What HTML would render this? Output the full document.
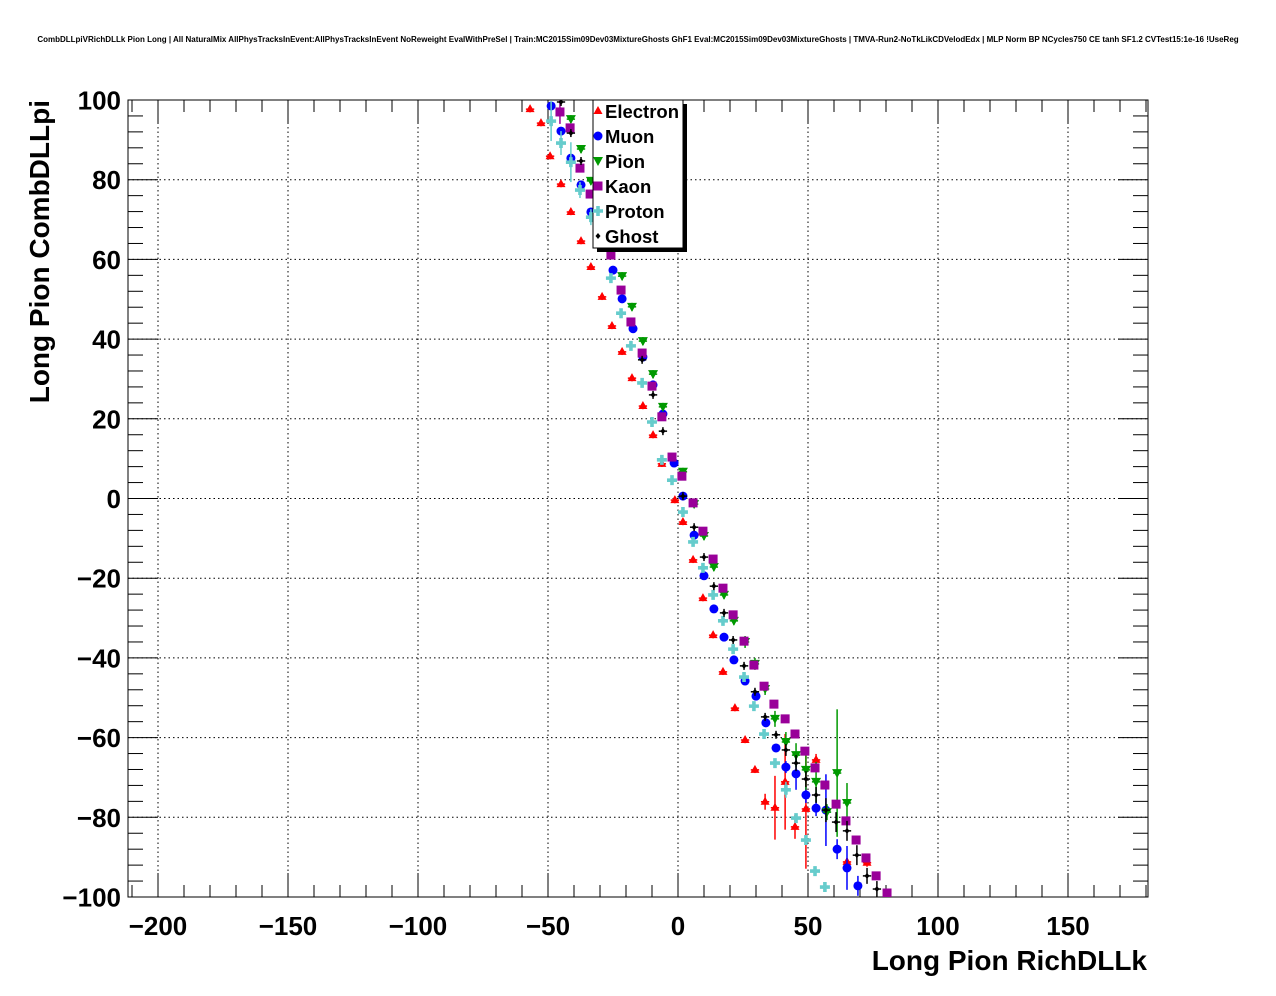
<!DOCTYPE html>
<html><head><meta charset="utf-8"><style>
body{margin:0;background:#fff;}
svg{display:block;font-family:"Liberation Sans",sans-serif;}
</style></head><body>
<svg id="chart" width="1276" height="996" viewBox="0 0 1276 996">
<text x="638" y="42" font-size="8" font-weight="bold" text-anchor="middle">CombDLLpiVRichDLLk Pion Long | All NaturalMix AllPhysTracksInEvent:AllPhysTracksInEvent NoReweight EvalWithPreSel | Train:MC2015Sim09Dev03MixtureGhosts GhF1 Eval:MC2015Sim09Dev03MixtureGhosts | TMVA-Run2-NoTkLikCDVelodEdx | MLP Norm BP NCycles750 CE tanh SF1.2 CVTest15:1e-16 !UseReg</text>
<g id="grid"></g>
<g id="axes"></g>
<g id="marks"></g>
<text x="1147" y="970" font-size="28" font-weight="bold" text-anchor="end">Long Pion RichDLLk</text>
<text transform="translate(49,100) rotate(-90)" font-size="28" font-weight="bold" text-anchor="end">Long Pion CombDLLpi</text>
<g id="legend"></g>
</svg>
<script>
const xTicks=[-200,-150,-100,-50,0,50,100,150];
const yTicks=[-100,-80,-60,-40,-20,0,20,40,60,80,100];
const seriesNames=["Electron","Muon","Pion","Kaon","Proton","Ghost"];
const electronX=[-56.9,-52.7,-49.2,-45,-41.2,-37.3,-33.5,-29.2,-25.4,-21.5,-17.7,-13.5,-9.6,-6.2,-1.2,1.9,5.8,9.6,13.5,17.3,21.9,25.8,29.6,33.5,37.3,41.2,45,49.2,53.1,65,72.7];
const electronY=[97.7,94.2,85.9,78.9,71.9,64.6,58.1,50.6,43.3,36.8,30.2,23.2,15.9,8.7,-0.4,-5.9,-15.4,-25,-34.3,-43.5,-52.6,-60.6,-68.1,-76.1,-77.6,-71.1,-82.4,-77.9,-65.6,-91.2,-91.4];
const electronErr=[0.8,0.8,0.8,0.8,0.8,0.8,0.8,0.8,0.8,0.8,0.8,0.8,0.8,0.8,0.8,0.8,0.8,0.8,0.8,0.8,0.8,0.8,0.8,2,8,12,3,15,1.5,1,1];
const muonX=[-48.8,-45,-41.2,-37.3,-33.5,-25,-21.5,-17.3,-13.5,-9.6,-5.8,-1.5,1.9,6.2,10,13.8,17.7,21.5,25.8,30,33.8,37.7,41.5,45.4,49.2,53.1,56.9,61.2,65,69.2];
const muonY=[98.5,92.2,85.4,78.7,71.9,57.3,50.1,42.6,35.5,28.5,21.2,8.9,0.6,-9.2,-19.4,-27.7,-34.8,-40.5,-45.8,-49.6,-56.3,-62.6,-67.4,-69.1,-74.4,-77.7,-78.2,-88,-92.7,-97.2];
const muonErr=[1,1,1,1,1,1,1,1,1,1,1,1,1,1,1,1,1,1,1,1,1,1,1.5,4,2,2,9,2.5,5.5,2.5];
const pionX=[-41.2,-37.3,-33.5,-21.5,-17.7,-13.5,-9.6,-5.8,1.9,6.2,10,13.8,17.7,21.5,25.8,29.6,33.5,37.3,41.5,45.4,49.2,53.1,57.3,61.2,65];
const pionY=[95.2,87.7,79.7,55.8,48.1,39.5,31.2,23,6.7,-1.4,-9.4,-17.2,-24.2,-30.7,-36,-41.5,-47.8,-55.3,-61.1,-64.4,-68.1,-71.1,-78.7,-68.9,-76.4];
const pionErr=[1,1,1,1,1,1,1,1,1,1,1,1,1,1,1.5,1.5,1.5,2,2.5,3,5,5,2,16,5];
const kaonX=[-45.4,-41.5,-37.7,-33.8,-25.8,-21.9,-18.1,-13.8,-10,-6.2,-2.3,1.5,5.8,9.6,13.5,17.3,21.2,25.4,29.2,33.1,36.9,41.2,45,48.8,52.7,56.5,60.8,64.6,68.5,72.3,76.2,80.4];
const kaonY=[97,93,82.9,76.4,61.1,52.3,44.3,36.5,28.2,20.5,10.4,5.6,-1.1,-8.2,-15.2,-22.5,-29.2,-35.8,-41.8,-47.1,-51.6,-55.3,-59.1,-63.4,-67.6,-71.9,-76.7,-80.9,-85.7,-90.2,-94.7,-99];
const kaonErr=[3,1,1,1,1,1,1,1,1,1,1,1,1,1,1,1,1,1,1,1,1,1,1,1,1,1,1,1,1,1,1,1];
const protonX=[-48.8,-45,-41.2,-37.7,-33.5,-25.8,-21.9,-18.1,-13.8,-10,-6.2,-2.3,1.9,5.8,9.6,13.5,17.3,21.2,25.4,29.2,33.1,37.3,41.5,45.4,49.2,52.7,56.5];
const protonY=[94.7,89.2,84.4,77.4,70.6,55.3,46.5,38.3,29,19.2,9.7,4.6,-3.4,-10.9,-17.4,-24.2,-30.7,-37.8,-44.8,-52.1,-59.1,-66.4,-73.1,-80.2,-85.7,-93.5,-97.5];
const protonErr=[5,3,5,2,2,1,1,1,1,1,1,1,1,1,1,1,1,1,1,1,1,1,2,1,1,1,1];
const ghostX=[-45,-41.2,-37.3,-13.8,-9.6,-5.8,1.9,6.2,10,13.8,17.7,21.2,25.4,29.6,33.5,37.7,41.5,45.4,49.2,53.1,56.9,60.8,65,68.8,72.7,76.5];
const ghostY=[99.5,91.7,84.7,34.8,26,16.9,0.6,-7.2,-14.7,-22,-28.7,-35.5,-42,-48.5,-54.8,-59.3,-63.1,-66.4,-70.4,-74.4,-78.2,-81.2,-83.4,-89.5,-94.7,-98];
const ghostErr=[1,1,1,1,1,1,1,1,1,1,1,1,1,1,1,1,1.5,2,2,2,3,2.5,2.5,2.5,2,2];

const NS="http://www.w3.org/2000/svg";
const L=128,R=1148,T=100,B=897;
const xMin=-211.54,xMax=180.77,yMin=-100,yMax=100;
const sx=v=>L+(v-xMin)/(xMax-xMin)*(R-L);
const sy=v=>B-(v-yMin)/(yMax-yMin)*(B-T);
function mk(tag,attrs,parent){const e=document.createElementNS(NS,tag);for(const k in attrs)e.setAttribute(k,attrs[k]);parent.appendChild(e);return e;}
const grid=document.getElementById('grid'),axes=document.getElementById('axes'),marks=document.getElementById('marks'),legend=document.getElementById('legend');
mk('rect',{x:L,y:T,width:R-L,height:B-T,fill:'none',stroke:'#000','stroke-width':1},axes);
xTicks.forEach(v=>{
  const x=sx(v);
  const g=mk('line',{x1:x,x2:x,y1:T,y2:B,stroke:'#000','stroke-dasharray':'1.5,3','stroke-width':1},grid);
  
  
  mk('line',{x1:x,x2:x,y1:B,y2:B-24,stroke:'#000'},axes);
  mk('line',{x1:x,x2:x,y1:T,y2:T+24,stroke:'#000'},axes);
  const t=mk('text',{x:x,y:935,'font-size':26,'font-weight':'bold','text-anchor':'middle'},axes);
  t.textContent=(v<0?'\u2212'+(-v):v);
  
  
});
for(let v=-210;v<=180;v+=10){if(v%50===0)continue;const x=sx(v);mk('line',{x1:x,x2:x,y1:B,y2:B-12,stroke:'#000'},axes);mk('line',{x1:x,x2:x,y1:T,y2:T+12,stroke:'#000'},axes);}
yTicks.forEach(v=>{
  const y=sy(v);
  if(v>yMin&&v<yMax){const g=mk('line',{x1:L,x2:R,y1:y,y2:y,stroke:'#000','stroke-dasharray':'1.5,3','stroke-width':1},grid);
  
  }
  mk('line',{x1:L,x2:L+30,y1:y,y2:y,stroke:'#000'},axes);
  mk('line',{x1:R,x2:R-30,y1:y,y2:y,stroke:'#000'},axes);
  const t=mk('text',{x:121,y:y+9.5,'font-size':26,'font-weight':'bold','text-anchor':'end'},axes);
  t.textContent=(v<0?'\u2212'+(-v):v);
  
  
});
for(let v=-100;v<=100;v+=4){if(v%20===0)continue;const y=sy(v);mk('line',{x1:L,x2:L+15,y1:y,y2:y,stroke:'#000'},axes);mk('line',{x1:R,x2:R-15,y1:y,y2:y,stroke:'#000'},axes);}

const colors=['#ff0000','#0000ff','#009900','#990099','#66cccc','#000000'];
const shapes=['tri','circle','tridown','square','cross','diamond'];
function marker(shape,cx,cy,c,parent){
  if(shape==='tri')return mk('polygon',{points:`${cx},${cy-5} ${cx+4.5},${cy+3} ${cx-4.5},${cy+3}`,fill:c},parent);
  if(shape==='tridown')return mk('polygon',{points:`${cx-5},${cy-4} ${cx+5},${cy-4} ${cx},${cy+5}`,fill:c},parent);
  if(shape==='circle')return mk('circle',{cx:cx,cy:cy,r:4.5,fill:c},parent);
  if(shape==='square')return mk('rect',{x:cx-4.5,y:cy-4.5,width:9,height:9,fill:c},parent);
  if(shape==='cross')return mk('path',{d:`M${cx-5},${cy-1.8}h3.2v-3.2h3.6v3.2h3.2v3.6h-3.2v3.2h-3.6v-3.2h-3.2z`,fill:c},parent);
  return mk('polygon',{points:`${cx},${cy-3} ${cx+2.5},${cy} ${cx},${cy+3} ${cx-2.5},${cy}`,fill:c},parent);
}
const allX=[electronX,muonX,pionX,kaonX,protonX,ghostX];
const allY=[electronY,muonY,pionY,kaonY,protonY,ghostY];
const allE=[electronErr,muonErr,pionErr,kaonErr,protonErr,ghostErr];
const xErr=1.6;
const clip=mk('clipPath',{id:'pc'},document.getElementById('chart'));
mk('rect',{x:L,y:T,width:R-L,height:B-T},clip);
marks.setAttribute('clip-path','url(#pc)');
seriesNames.forEach((n,i)=>{
  const g=mk('g',{},marks);
  
  
  allX[i].forEach((xv,j)=>{
    const cx=sx(xv),cy=sy(allY[i][j]),e=allE[i][j];
    mk('line',{x1:sx(xv-xErr),x2:sx(xv+xErr),y1:cy,y2:cy,stroke:colors[i],'stroke-width':1.5},g);
    mk('line',{x1:cx,x2:cx,y1:sy(allY[i][j]+e),y2:sy(allY[i][j]-e),stroke:colors[i],'stroke-width':1.5},g);
    const m=marker(shapes[i],cx,cy,colors[i],g);
    
    
  });
});
mk('rect',{x:597,y:104,width:90,height:148,fill:'#000'},legend);
mk('rect',{x:593,y:100,width:90,height:148,fill:'#fff',stroke:'#000'},legend);
seriesNames.forEach((n,i)=>{
  const y=111+i*25;
  marker(shapes[i],598,y,colors[i],legend);
  const t=mk('text',{x:605,y:y+7,'font-size':18.5,'font-weight':'bold'},legend);
  t.textContent=n;
  
  
});
</script>
</body></html>
